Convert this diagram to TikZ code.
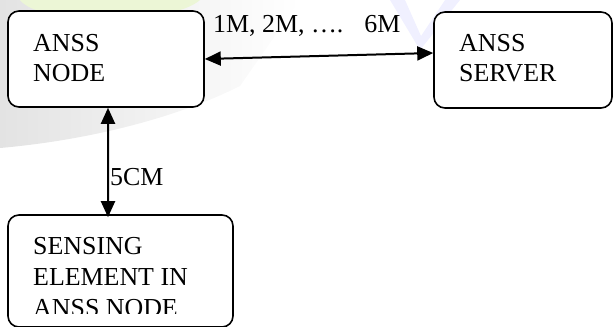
\documentclass[tikz,border=0pt]{standalone}
\usepackage{fontspec}
\setmainfont{Liberation Serif}
\usetikzlibrary{arrows.meta}
\begin{document}
\begin{tikzpicture}[x=1bp,y=1bp,
  box/.style={draw=black, line width=1.6bp, rounded corners=11bp, fill=white, inner sep=0pt},
  txt/.style={inner sep=0pt, align=left, anchor=base west},
  link/.style={line width=2bp, {Triangle[length=16bp,width=14bp]}-{Triangle[length=16bp,width=14bp]}}]
\useasboundingbox (0,0) rectangle (613,326);
% faint watermark in the background
\shade[left color=gray!22, right color=white] (0,326) -- (0,178) .. controls (80,185) and (170,205) .. (240,240) -- (300,326) -- cycle;
\fill[color={rgb,255:red,236;green,246;blue,214}] (20,326) .. controls (40,300) and (170,300) .. (200,326) -- cycle;
\fill[blue!6] (390,326) -- (420,276) -- (460,326) -- (445,326) -- (421,290) -- (405,326) -- cycle;
% boxes
\node[box, minimum width=196bp, minimum height=96bp] (a) at (106,267) {};
\node[box, minimum width=178bp, minimum height=96bp] (b) at (523,266) {};
\node[box, minimum width=225bp, minimum height=112bp] (c) at (120.5,55) {};
% texts (anchored at the baseline of the last line)
\node[txt, font=\fontsize{26}{30}\selectfont] (ta) at (33,245) {ANSS\\NODE};
\node[txt, font=\fontsize{26}{30}\selectfont] (tb) at (459,245) {ANSS\\SERVER};
\begin{scope}
\clip (0,13) rectangle (613,326);
\node[txt, font=\fontsize{26}{31}\selectfont] (tc) at (33,10) {SENSING\\ELEMENT IN\\ANSS NODE};
\end{scope}
\node[txt, font=\fontsize{26}{30}\selectfont] (l1) at (213,294) {1M, 2M, ….\hspace{21bp}6M};
\node[txt, font=\fontsize{26}{30}\selectfont] (l2) at (110,141) {5CM};
% connectors
\draw[link] (a.east) -- ([yshift=7bp]b.west);
\draw[link] ([xshift=2bp]a.south) -- ([xshift=-12.5bp,yshift=-3bp]c.north);
\end{tikzpicture}
\end{document}
